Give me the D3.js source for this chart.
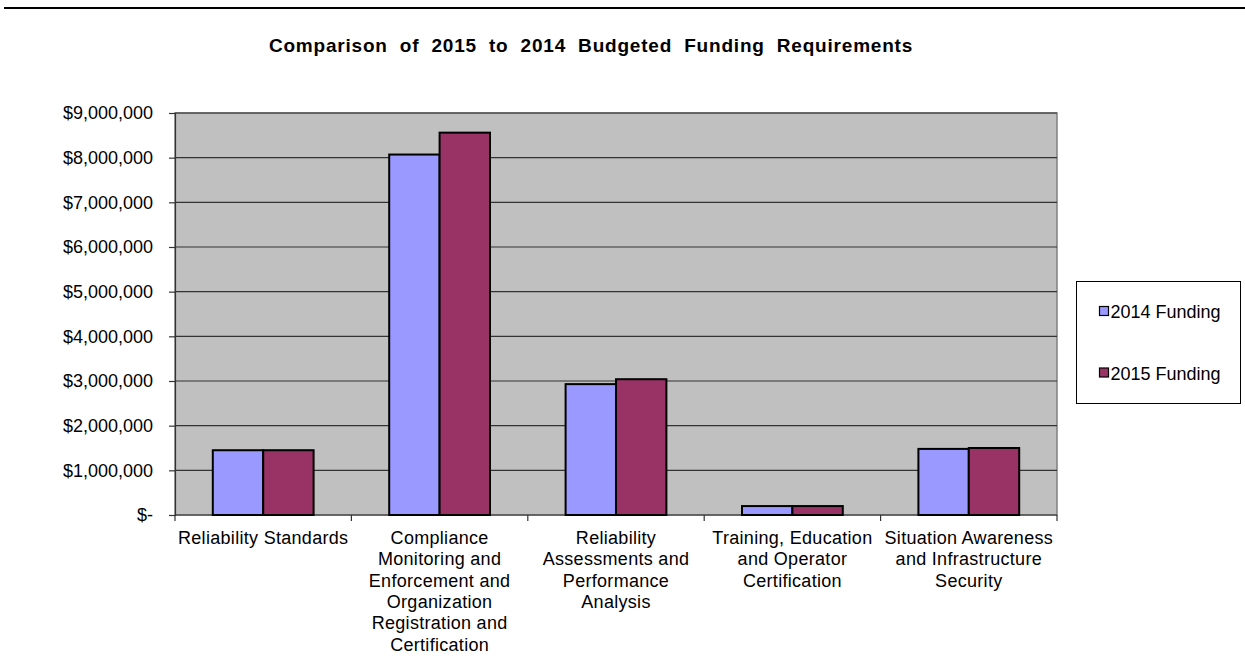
<!DOCTYPE html>
<html>
<head>
<meta charset="utf-8">
<script src="https://cdn.jsdelivr.net/npm/d3@7"></script>
<style>
  body { margin: 0; background: #fff; }
  svg { display: block; font-family: 'Liberation Sans', Arial, sans-serif; }
</style>
</head>
<body>
<svg width="1245" height="656"></svg>
<script>
const categories = [
  'Reliability Standards',
  'Compliance\nMonitoring and\nEnforcement and\nOrganization\nRegistration and\nCertification',
  'Reliability\nAssessments and\nPerformance\nAnalysis',
  'Training, Education\nand Operator\nCertification',
  'Situation Awareness\nand Infrastructure\nSecurity'
]
const funding2014 = [1450000, 8070000, 2930000, 200000, 1480000]
const funding2015 = [1450000, 8560000, 3040000, 200000, 1500000]
const seriesNames = ['2014 Funding', '2015 Funding']
const yTicks = [0, 1000000, 2000000, 3000000, 4000000, 5000000, 6000000, 7000000, 8000000, 9000000]
const colors = ['#9999FF', '#993366']

const svg = d3.select('svg')
const margin = { top: 113, left: 175, right: 188, bottom: 141 }
const width = +svg.attr('width')
const height = +svg.attr('height')
const innerWidth = width - margin.left - margin.right
const innerHeight = height - margin.top - margin.bottom
const font = "'Liberation Sans', Arial, sans-serif"

// top rule
svg.append('line')
  .attr('x1', 4).attr('x2', width).attr('y1', 8).attr('y2', 8)
  .attr('stroke', '#000').attr('stroke-width', 2)

svg.append('text')
  .attr('x', 591).attr('y', 52)
  .attr('text-anchor', 'middle')
  .attr('font-size', 19).attr('font-weight', 'bold')
  .attr('letter-spacing', 0.8)
  .attr('word-spacing', 6)
  .text('Comparison of 2015 to 2014 Budgeted Funding Requirements')

const g = svg.append('g')
  .attr('transform', `translate(${margin.left},${margin.top})`)

const xScale = d3.scaleBand()
  .domain(categories)
  .range([0, innerWidth])
  .paddingInner(0)
  .paddingOuter(0)

const xSub = d3.scaleBand()
  .domain(seriesNames)
  .range([0, xScale.bandwidth()])
  .paddingInner(0)
  .paddingOuter(0.75)

const yScale = d3.scaleLinear()
  .domain([0, 9000000])
  .range([innerHeight, 0])

g.append('rect')
  .attr('width', innerWidth).attr('height', innerHeight)
  .attr('fill', '#C0C0C0')
  .attr('stroke', '#808080').attr('stroke-width', 1.5)

// gridlines
g.append('g')
  .selectAll('line')
  .data(yTicks.slice(1))
  .join('line')
  .attr('x1', 0).attr('x2', innerWidth)
  .attr('y1', d => yScale(d)).attr('y2', d => yScale(d))
  .attr('stroke', '#333').attr('stroke-width', 1.2)

const fmt = d => d === 0 ? '$-' : '$' + d3.format(',')(d)

const yAxis = g.append('g')
  .call(d3.axisLeft(yScale).tickValues(yTicks).tickFormat(fmt).tickSize(6).tickPadding(16))
yAxis.select('.domain').attr('stroke', '#333').attr('stroke-width', 1.2)
yAxis.selectAll('.tick line').attr('stroke', '#333').attr('stroke-width', 1.2)
yAxis.selectAll('text').attr('font-size', 18).attr('font-family', font).attr('fill', '#000')

// x axis line and ticks at category boundaries
g.append('line')
  .attr('x1', 0).attr('x2', innerWidth)
  .attr('y1', innerHeight).attr('y2', innerHeight)
  .attr('stroke', '#333').attr('stroke-width', 1.2)
g.append('g')
  .selectAll('line')
  .data(d3.range(categories.length + 1))
  .join('line')
  .attr('x1', i => i * xScale.step()).attr('x2', i => i * xScale.step())
  .attr('y1', innerHeight).attr('y2', innerHeight + 6)
  .attr('stroke', '#333').attr('stroke-width', 1.2)

// bars
const groups = g.selectAll('.grp')
  .data(categories.map((c, i) => ({ c, vals: [funding2014[i], funding2015[i]] })))
  .join('g')
  .attr('class', 'grp')
  .attr('transform', d => `translate(${xScale(d.c)},0)`)

groups.selectAll('rect')
  .data(d => d.vals.map((v, j) => ({ v, s: seriesNames[j], j })))
  .join('rect')
  .attr('x', d => xSub(d.s))
  .attr('y', d => yScale(d.v))
  .attr('width', xSub.bandwidth())
  .attr('height', d => innerHeight - yScale(d.v))
  .attr('fill', d => colors[d.j])
  .attr('stroke', '#000').attr('stroke-width', 2)

// category labels
const labels = g.append('g')
  .selectAll('text')
  .data(categories)
  .join('text')
  .attr('text-anchor', 'middle')
  .attr('font-size', 18)
  .attr('letter-spacing', 0.3)
  .attr('transform', d => `translate(${xScale(d) + xScale.bandwidth() / 2},${innerHeight + 29})`)
labels.selectAll('tspan')
  .data(d => d.split('\n'))
  .join('tspan')
  .attr('x', 0)
  .attr('dy', (d, i) => i === 0 ? 0 : 21.3)
  .text(d => d)

// legend
const legend = svg.append('g').attr('transform', 'translate(1076.5,281.5)')
legend.append('rect')
  .attr('width', 164).attr('height', 122)
  .attr('fill', '#fff').attr('stroke', '#000').attr('stroke-width', 1)
seriesNames.forEach((s, i) => {
  const ly = 30 + i * 61.5
  legend.append('rect')
    .attr('x', 23).attr('y', ly - 5)
    .attr('width', 9).attr('height', 9)
    .attr('fill', colors[i]).attr('stroke', '#000').attr('stroke-width', 1.2)
  legend.append('text')
    .attr('x', 34).attr('y', ly + 6.5)
    .attr('font-size', 18)
    .text(s)
})
</script>
</body>
</html>
